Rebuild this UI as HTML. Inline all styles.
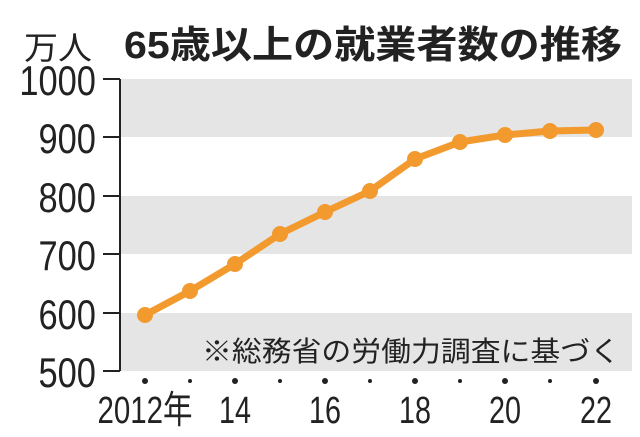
<!DOCTYPE html>
<html><head><meta charset="utf-8"><style>
html,body{margin:0;padding:0;background:#fff;}
svg{display:block;}
text{font-family:"Liberation Sans","Noto Sans CJK JP",sans-serif;fill:#222;}
</style></head><body>
<svg width="640" height="437" viewBox="0 0 640 437" xmlns="http://www.w3.org/2000/svg">
<rect x="120" y="79" width="512" height="58" fill="#e5e5e5"/>
<rect x="120" y="196" width="512" height="58" fill="#e5e5e5"/>
<rect x="120" y="313" width="512" height="58" fill="#e5e5e5"/>
<line x1="120" y1="79" x2="120" y2="371" stroke="#222" stroke-width="2"/>
<g stroke="#222" stroke-width="2">
<line x1="103" y1="79" x2="120" y2="79"/><line x1="103" y1="137" x2="120" y2="137"/>
<line x1="103" y1="196" x2="120" y2="196"/><line x1="103" y1="254" x2="120" y2="254"/>
<line x1="103" y1="313" x2="120" y2="313"/><line x1="103" y1="371" x2="120" y2="371"/>
</g>
<g font-size="42" text-anchor="end" transform="scale(0.82,1)">
<text x="117" y="95">1000</text><text x="117" y="153">900</text><text x="117" y="212">800</text>
<text x="117" y="270">700</text><text x="117" y="329">600</text><text x="117" y="387">500</text>
</g>
<text x="24" y="59" font-size="32" textLength="68" lengthAdjust="spacingAndGlyphs">万人</text>
<text x="124" y="58" font-size="38" font-weight="bold" textLength="498" lengthAdjust="spacingAndGlyphs">65歳以上の就業者数の推移</text>
<text x="202" y="361" font-size="28" textLength="418" lengthAdjust="spacingAndGlyphs">※総務省の労働力調査に基づく</text>
<polyline fill="none" stroke="#f29a2e" stroke-width="7" stroke-linejoin="round" points="145,315 190,291 235,264 280,234 325,212 370,191 415,159 460,142 505,135 550,131 596,130"/>
<g fill="#f29a2e">
<circle cx="145" cy="315" r="8"/><circle cx="190" cy="291" r="8"/><circle cx="235" cy="264" r="8"/>
<circle cx="280" cy="234" r="8"/><circle cx="325" cy="212" r="8"/><circle cx="370" cy="191" r="8"/>
<circle cx="415" cy="159" r="8"/><circle cx="460" cy="142" r="8"/><circle cx="505" cy="135" r="8"/>
<circle cx="550" cy="131" r="8"/><circle cx="596" cy="130" r="8"/>
</g>
<g fill="#222">
<circle cx="145" cy="381" r="3"/><circle cx="190" cy="381" r="2"/><circle cx="235" cy="381" r="3"/>
<circle cx="280" cy="381" r="2"/><circle cx="325" cy="381" r="3"/><circle cx="370" cy="381" r="2"/>
<circle cx="415" cy="381" r="3"/><circle cx="460" cy="381" r="2"/><circle cx="505" cy="381" r="3"/>
<circle cx="550" cy="381" r="2"/><circle cx="596" cy="381" r="3"/>
</g>
<g font-size="38" text-anchor="middle">
<text x="145" y="423" textLength="95" lengthAdjust="spacingAndGlyphs">2012年</text>
<text x="235" y="423" textLength="32" lengthAdjust="spacingAndGlyphs">14</text>
<text x="325" y="423" textLength="32" lengthAdjust="spacingAndGlyphs">16</text>
<text x="415" y="423" textLength="32" lengthAdjust="spacingAndGlyphs">18</text>
<text x="505" y="423" textLength="32" lengthAdjust="spacingAndGlyphs">20</text>
<text x="596" y="423" textLength="32" lengthAdjust="spacingAndGlyphs">22</text>
</g>
</svg>
</body></html>
